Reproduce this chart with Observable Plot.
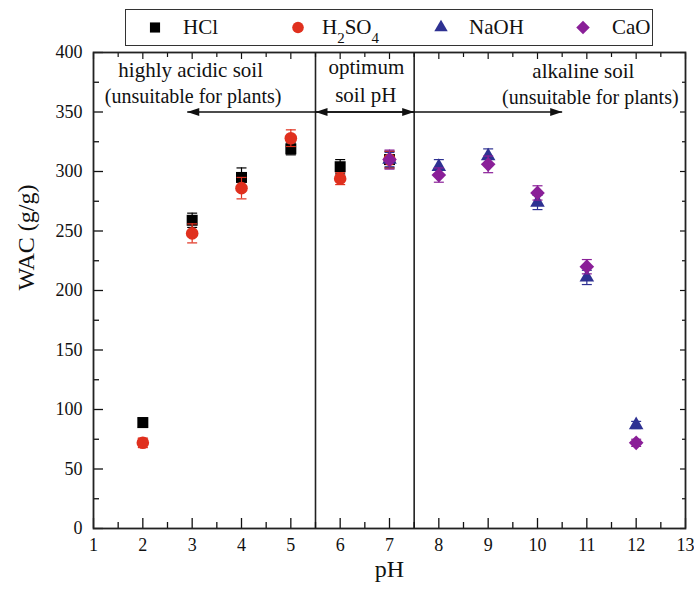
<!DOCTYPE html>
<html>
<head>
<meta charset="utf-8">
<script src="https://cdn.jsdelivr.net/npm/d3@7"></script>
<script src="https://cdn.jsdelivr.net/npm/@observablehq/plot@0.6"></script>
<style>
  html, body { margin: 0; padding: 0; background: #fff; }
  body { width: 694px; height: 589px; overflow: hidden; font-family: "Liberation Serif", "Times New Roman", serif; }
  #legend { position: relative; width: 694px; height: 48px; }
  #legend .box { position: absolute; left: 125px; top: 9px; width: 526px; height: 35px; border: 1.5px solid #333; }
  #legend .item { position: absolute; top: 5px; height: 30px; line-height: 24px; font-size: 21px; color: #111; font-family: "Liberation Serif", serif; white-space: nowrap; }
  #legend .item sub { font-size: 15px; vertical-align: -9px; line-height: 0; }
  #legend svg { position: absolute; top: 0; }
  #chart svg { overflow: visible; }
  #chart svg text { font-family: "Liberation Serif", "Times New Roman", serif; }
</style>
</head>
<body>
<div id="legend"></div>
<div id="chart"></div>
<script>
// ---- data ----
const seriesNames = ["HCl", "H2SO4", "NaOH", "CaO"];
const phHCl = [2, 3, 4, 5, 6, 7];
const wacHCl = [89, 259, 295, 319, 304, 310];
const errHCl = [4, 6, 8, 5, 6, 7];
const phH2SO4 = [2, 3, 4, 5, 6, 7];
const wacH2SO4 = [72, 248, 286, 328, 294, 310];
const errH2SO4 = [4, 8, 9, 7, 5, 7];
const phNaOH = [7, 8, 9, 10, 11, 12];
const wacNaOH = [310, 304, 313, 274, 211, 87];
const errNaOH = [6, 6, 6, 6, 6, 3];
const phCaO = [7, 8, 9, 10, 11, 12];
const wacCaO = [310, 297, 306, 282, 220, 72];
const errCaO = [8, 6, 7, 6, 6, 3];

const xMajor = [1, 2, 3, 4, 5, 6, 7, 8, 9, 10, 11, 12, 13];
const xMinor = [1.5, 2.5, 3.5, 4.5, 5.5, 6.5, 7.5, 8.5, 9.5, 10.5, 11.5, 12.5];
const yMajor = [0, 50, 100, 150, 200, 250, 300, 350, 400];
const yMinor = [25, 75, 125, 175, 225, 275, 325, 375];

const zoneBounds = [5.5, 7.5];
const arrowY = 350;
const arrowFrom = [5.5, 5.5, 7.5, 7.5];
const arrowTo = [2.9, 7.5, 5.5, 10.5];
const noteText = ["highly acidic soil", "(unsuitable for plants)", "optimum", "soil pH", "alkaline soil", "(unsuitable for plants)"];
const notePH = [2.97, 3.02, 6.53, 6.52, 10.93, 11.07];
const noteWAC = [385, 363, 388, 364, 384, 362];
const noteSize = [21, 20, 21, 21, 21, 20];

// ---- styles ----
const FONT = "Liberation Serif, Times New Roman, serif";
const colors = {HCl: "#000000", H2SO4: "#e0301e", NaOH: "#2e3192", CaO: "#8a1f98"};
const symbols = {HCl: "square", H2SO4: "circle", NaOH: "triangle", CaO: "diamond2"};
const radii = {HCl: 6.2, H2SO4: 6.3, NaOH: 5.4, CaO: 6.6};

const rows = [];
[[phHCl, wacHCl, errHCl, "HCl"], [phH2SO4, wacH2SO4, errH2SO4, "H2SO4"],
 [phNaOH, wacNaOH, errNaOH, "NaOH"], [phCaO, wacCaO, errCaO, "CaO"]].forEach(([xs, ys, es, name]) => {
  xs.forEach((x, i) => rows.push({series: name, pH: x, wac: ys[i], err: es[i]}));
});
const arrows = arrowFrom.map((f, i) => ({from: f, to: arrowTo[i], y: arrowY}));
const notes = noteText.map((t, i) => ({text: t, pH: notePH[i], wac: noteWAC[i], size: noteSize[i]}));

const headRight = {draw(ctx) { ctx.moveTo(0, 0); ctx.lineTo(-12, -4); ctx.lineTo(-12, 4); ctx.closePath(); }};
const headLeft = {draw(ctx) { ctx.moveTo(0, 0); ctx.lineTo(12, -4); ctx.lineTo(12, 4); ctx.closePath(); }};
const cap = {draw(ctx) { ctx.moveTo(-5, 0); ctx.lineTo(5, 0); }};

const seriesMarks = [];
seriesNames.forEach(name => {
  const d = rows.filter(r => r.series === name);
  seriesMarks.push(Plot.dot(d, {x: "pH", y: "wac", symbol: symbols[name], r: radii[name], fill: colors[name], stroke: "none"}));
  seriesMarks.push(Plot.ruleX(d, {x: "pH", y1: r => r.wac - r.err, y2: r => r.wac + r.err, stroke: colors[name], strokeWidth: 1.2}));
  seriesMarks.push(Plot.dot(d, {x: "pH", y: r => r.wac + r.err, symbol: cap, r: 3, stroke: colors[name], fill: "none", strokeWidth: 1.2}));
  seriesMarks.push(Plot.dot(d, {x: "pH", y: r => r.wac - r.err, symbol: cap, r: 3, stroke: colors[name], fill: "none", strokeWidth: 1.2}));
});

const chart = Plot.plot({
  width: 694,
  height: 541,
  marginLeft: 93,
  marginRight: 9,
  marginTop: 4,
  marginBottom: 61,
  style: {fontFamily: FONT, fontSize: "18px", color: "#111", background: "#fff"},
  x: {domain: [1, 13]},
  y: {domain: [0, 400]},
  marks: [
    Plot.ruleX(zoneBounds, {stroke: "#222", strokeWidth: 1.6}),
    Plot.link(arrows, {x1: "from", x2: "to", y1: "y", y2: "y", stroke: "#111", strokeWidth: 1.5}),
    Plot.dot(arrows.filter(a => a.to > a.from), {x: "to", y: "y", symbol: headRight, r: 3, fill: "#111", stroke: "none"}),
    Plot.dot(arrows.filter(a => a.to < a.from), {x: "to", y: "y", symbol: headLeft, r: 3, fill: "#111", stroke: "none"}),
    Plot.text(notes, {x: "pH", y: "wac", text: "text", fontSize: "size", fontFamily: FONT, fill: "#111"}),
    ...seriesMarks,
    Plot.axisX(xMajor, {anchor: "bottom", tickSize: -10, fill: "none", label: null, strokeWidth: 1.3}),
    Plot.axisX(xMinor, {anchor: "bottom", tickSize: -6, fill: "none", label: null, strokeWidth: 1.3}),
    Plot.axisX(xMajor, {anchor: "top", tickSize: -6, fill: "none", label: null, strokeWidth: 1.2}),
    Plot.axisX(xMinor, {anchor: "top", tickSize: -4, fill: "none", label: null, strokeWidth: 1.2}),
    Plot.axisY(yMajor, {anchor: "left", tickSize: -10, fill: "none", label: null, strokeWidth: 1.3}),
    Plot.axisY(yMinor, {anchor: "left", tickSize: -6, fill: "none", label: null, strokeWidth: 1.3}),
    Plot.axisY(yMajor, {anchor: "right", tickSize: -6, fill: "none", label: null, strokeWidth: 1.2}),
    Plot.axisY(yMinor, {anchor: "right", tickSize: -4, fill: "none", label: null, strokeWidth: 1.2}),
    Plot.axisX(xMajor, {anchor: "bottom", tickSize: 0, tickPadding: 10, label: null, tickFormat: d => String(d), fontSize: 18, fontFamily: FONT, fill: "#111"}),
    Plot.axisY(yMajor, {anchor: "left", tickSize: 0, tickPadding: 11, label: null, tickFormat: d => String(d), fontSize: 18, fontFamily: FONT, fill: "#111"}),
    Plot.text(["pH"], {frameAnchor: "bottom", dy: 48, text: d => d, fontSize: 24, fontFamily: FONT, fill: "#111"}),
    Plot.text(["WAC (g/g)"], {frameAnchor: "left", dx: -67, rotate: -90, text: d => d, fontSize: 24, fontFamily: FONT, fill: "#111"}),
    Plot.frame({stroke: "#222", strokeWidth: 1.8})
  ]
});
document.getElementById("chart").appendChild(chart);

// ---- legend ----
const legendPos = {HCl: [154, 182], H2SO4: [297, 321], NaOH: [440, 468], CaO: [582, 611]};
const legendLabels = {HCl: "HCl", H2SO4: "H<sub>2</sub>SO<sub>4</sub>", NaOH: "NaOH", CaO: "CaO"};
const legendSymbols = {HCl: d3.symbolSquare, H2SO4: d3.symbolCircle, NaOH: d3.symbolTriangle, CaO: d3.symbolDiamond2};
const legend = document.getElementById("legend");
const box = document.createElement("div");
box.className = "box";
legend.appendChild(box);
seriesNames.forEach(name => {
  const [sx, tx] = legendPos[name];
  const sym = d3.symbol(legendSymbols[name], Math.PI * radii[name] * radii[name] * 0.85);
  const svg = d3.create("svg").attr("width", 20).attr("height", 35)
    .style("left", (sx - 125 - 10) + "px");
  svg.append("path").attr("d", sym()).attr("transform", "translate(10,17.5)").attr("fill", colors[name]);
  box.appendChild(svg.node());
  const item = document.createElement("div");
  item.className = "item";
  item.style.left = (tx - 125) + "px";
  item.innerHTML = "<span>" + legendLabels[name] + "</span>";
  box.appendChild(item);
});
</script>
</body>
</html>
